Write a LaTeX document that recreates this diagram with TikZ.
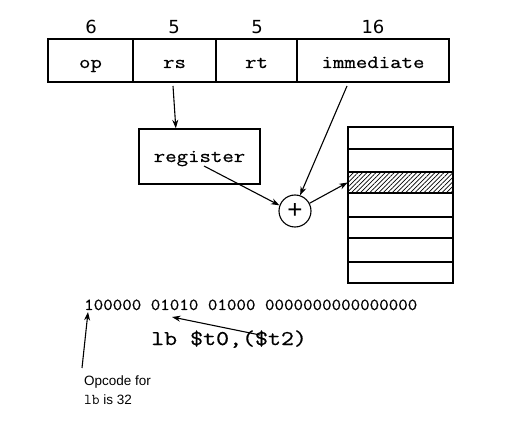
\documentclass[tikz,border=0pt]{standalone}
\usepackage{fontspec}
\setmainfont{Liberation Sans}
\newfontfamily\courw[FakeStretch=1.2,FakeBold=0.6]{Latin Modern Mono}
\newfontfamily\courb[FakeStretch=1.1,FakeBold=0.6]{Latin Modern Mono}
\newfontfamily\courn{Latin Modern Mono}
\newfontfamily\djv{DejaVu Sans}
\usetikzlibrary{arrows.meta,patterns.meta,calc}
\begin{document}
\begin{tikzpicture}[x=1pt,y=-1pt,
  box/.style={draw, line width=1.4pt, inner sep=0pt},
  arr/.style={-{Stealth[length=8.5pt,width=6pt]}, line width=1.1pt},
  lab/.style={font=\courw\fontsize{18.5}{20}\selectfont},
  num/.style={font=\djv\fontsize{18}{20}\selectfont, inner sep=0pt},
  rowline/.style={line width=1.2pt}]
\useasboundingbox (0,0) rectangle (512,422);
% instruction format
\node[box, lab, minimum width=85pt, minimum height=43pt, text height=15pt, text depth=0pt] (op) at (90.5,60.5) {op};
\node[box, lab, minimum width=83pt, minimum height=43pt, text height=15pt, text depth=0pt] (rs) at (174.5,60.5) {rs};
\node[box, lab, minimum width=81pt, minimum height=43pt, text height=15pt, text depth=0pt] (rt) at (256.5,60.5) {rt};
\node[box, lab, minimum width=152pt, minimum height=43pt, text height=15pt, text depth=0pt] (imm) at (373,60.5) {immediate};
\node[num] (n1) at (91,27) {6};
\node[num] (n2) at (174,27) {5};
\node[num] (n3) at (257,27) {5};
\node[num] (n4) at (373,27) {16};
% register
\node[box, lab, minimum width=121pt, minimum height=55pt, text height=11pt, text depth=0pt] (reg) at (199.5,156.5) {register};
% adder
\node[draw, circle, line width=1.1pt, minimum size=32pt, inner sep=0pt,
      font=\fontsize{26}{26}\selectfont] (plus) at (295,211) {+};
% memory
\node[draw, line width=1.4pt, minimum width=105pt, minimum height=156pt, inner sep=0pt] (mem) at (400.5,205) {};
\node[draw, rowline, minimum width=105pt, minimum height=21pt, inner sep=0pt,
      pattern={Lines[angle=45,distance=3.2pt,line width=0.7pt]}] (hrow) at (400.5,182.5) {};
\foreach \yy in {149,217,238,262}
  \draw[rowline] (mem.west |- 0,\yy) -- (mem.east |- 0,\yy);
% arrows
\coordinate (rsA) at (173,86);
\coordinate (immA) at (347,86);
\coordinate (regA) at (204,166);
\draw[arr] (rsA) -- (reg.130);
\draw[arr] (immA) -- (plus.72);
\draw[arr] (regA) -- (plus.160);
\draw[arr] (plus.28) -- (hrow.west);
% bottom
\node[anchor=base west, inner sep=0pt, font=\courb\fontsize{16.8}{18}\selectfont] (bin) at (84,310) {100000 01010 01000 0000000000000000};
\node[anchor=base west, inner sep=0pt, font=\courw\fontsize{21}{21}\selectfont] (lb) at (151,345) {lb \$t0,(\$t2)};
\node[anchor=north west, inner sep=0pt, align=left, font=\fontsize{13.5}{19}\selectfont] (opc) at (84,376) {Opcode for\\{\courn\fontsize{15}{19}\selectfont lb} is 32};
\coordinate (lbA) at (260,335);
\coordinate (binB) at (172,317);
\coordinate (opcA) at (82,368);
\coordinate (binA) at (88,312);
\draw[arr] (lbA) -- (binB);
\draw[arr] (opcA) -- (binA);
\end{tikzpicture}
\end{document}
